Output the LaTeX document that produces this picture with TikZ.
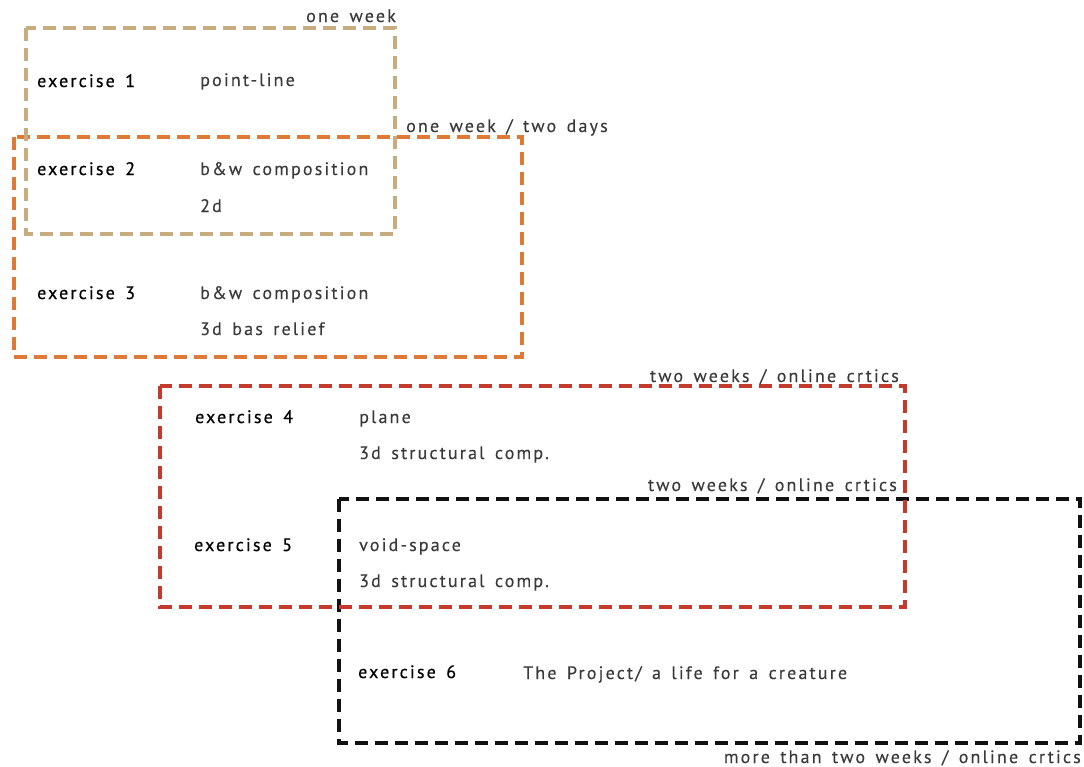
\documentclass[tikz,border=0pt]{standalone}
\usepackage{fontspec}
\setmainfont[LetterSpace=12,WordSpace=1.5,FakeBold=0.25]{PT Sans}
\newfontfamily\exfont[LetterSpace=12,WordSpace=1.5,FakeBold=0.6]{PT Sans}
\definecolor{tanc}{HTML}{C6AC7E}
\definecolor{orangec}{HTML}{DE7A36}
\definecolor{redc}{HTML}{C43A2D}
\definecolor{blackc}{HTML}{111111}
\definecolor{txtc}{HTML}{3A3A3A}
\tikzset{
  boxline/.style={line width=3.4pt, dash pattern=on 13pt off 7pt},
  extext/.style={anchor=base west, inner sep=0pt, font=\exfont\fontsize{18}{20}\selectfont, text=black},
  desc/.style={anchor=base west, inner sep=0pt, font=\fontsize{18}{20}\selectfont, text=txtc},
  durl/.style={anchor=base east, inner sep=0pt, font=\fontsize{18}{20}\selectfont, text=txtc},
  durll/.style={anchor=base west, inner sep=0pt, font=\fontsize{18}{20}\selectfont, text=txtc},
}
\begin{document}
\begin{tikzpicture}[x=1pt,y=-1pt]
\useasboundingbox (0,0) rectangle (1084,766);
% boxes
\coordinate (b2a) at (14,137); \coordinate (b2b) at (522,357);
\coordinate (b1a) at (26,28); \coordinate (b1b) at (395,234);
\coordinate (b4a) at (339,499); \coordinate (b4b) at (1080,743);
\coordinate (b3a) at (160,386); \coordinate (b3b) at (905,607);
\draw[boxline, draw=orangec] (b2a) rectangle (b2b);
\draw[boxline, draw=tanc] (b1a) rectangle (b1b);
\draw[boxline, draw=blackc] (b4a) rectangle (b4b);
\draw[boxline, draw=redc] (b3a) rectangle (b3b);
% duration labels
\node[durl] (d1) at (396,22) {one week};
\node[durll] (d2) at (406,132) {one week / two days};
\node[durl] (d3) at (899,382) {two weeks / online crtics};
\node[durl] (d4) at (897,491) {two weeks / online crtics};
\node[durl] (d5) at (1081,763) {more than two weeks / online crtics};
% exercises
\node[extext] (e1) at (37,87) {exercise 1};
\node[desc] (e1a) at (200,86) {point-line};
\node[extext] (e2) at (37,175) {exercise 2};
\node[desc] (e2a) at (200,175) {b\&w composition};
\node[desc] (e2b) at (200,212) {2d};
\node[extext] (e3) at (37,299) {exercise 3};
\node[desc] (e3a) at (200,299) {b\&w composition};
\node[desc] (e3b) at (200,335) {3d bas relief};
\node[extext] (e4) at (195,423) {exercise 4};
\node[desc] (e4a) at (359,423) {plane};
\node[desc] (e4b) at (359,459) {3d structural comp.};
\node[extext] (e5) at (194,551) {exercise 5};
\node[desc] (e5a) at (359,551) {void-space};
\node[desc] (e5b) at (359,587) {3d structural comp.};
\node[extext] (e6) at (358,678) {exercise 6};
\node[desc] (e6a) at (523,679) {The Project/ a life for a creature};
\end{tikzpicture}
\end{document}
